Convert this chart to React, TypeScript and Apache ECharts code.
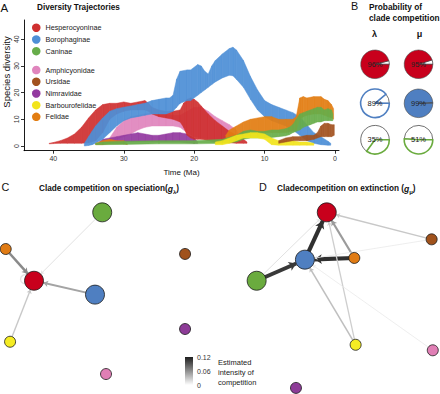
import React, { useEffect, useRef } from "react";
import * as echarts from "echarts";

const FONT = "'Liberation Sans', Arial, Helvetica, sans-serif";

// ---------------- Panel A: diversity trajectories ----------------
const timeTicks = [40, 30, 20, 10, 0];
const diversityTicks = [0, 10, 20, 30, 40];

const cladeNames = [
  "Hesperocyoninae",
  "Borophaginae",
  "Caninae",
  "Amphicyonidae",
  "Ursidae",
  "Nimravidae",
  "Barbourofelidae",
  "Felidae",
];
const legendGroup1 = ["Hesperocyoninae", "Borophaginae", "Caninae"];
const legendGroup2 = ["Amphicyonidae", "Ursidae", "Nimravidae", "Barbourofelidae", "Felidae"];

// envelope (lower / upper) of the simulated trajectories, per clade
const hespTime = [40.6, 40, 39, 38, 37, 36, 35, 34, 33, 32, 31, 30, 29, 28, 27, 26.5, 26, 25, 24, 23, 22, 21.5, 21, 20.5, 20, 19.5, 19, 18, 17, 16, 15, 14, 13, 12.5];
const hespHigh = [1, 1.3, 2, 3, 4.5, 7, 10.5, 13.5, 15.5, 16, 16, 16.5, 16, 16.5, 17, 16, 14.5, 13.5, 13, 13, 13.5, 16, 17.5, 18, 17.5, 16.5, 15, 12, 9.5, 7.5, 5.5, 4, 2.5, 1.5];
const hespLow = [0.8, 0.9, 1, 1, 1, 1, 1.2, 2, 5, 10, 12, 13, 13.5, 13.5, 13.5, 13, 12, 11, 10.5, 10, 9, 7, 4, 3, 2.5, 2.5, 2.5, 2, 1.5, 1.5, 1.2, 1, 1, 1];

const boroTime = [35.6, 35, 34.5, 34, 33, 32, 31, 30, 29, 28, 27, 26, 25, 24, 23.5, 23, 22.5, 22, 21, 20.5, 19.5, 19, 18.5, 18, 17.5, 17, 16, 15, 14.5, 14, 13, 12, 11, 10, 9, 8, 7, 6, 5, 4, 3, 2, 1, 0.6];
const boroHigh = [1, 3.5, 5.5, 7.5, 10.5, 13, 14, 14.5, 15, 15.5, 16, 17, 17.5, 18, 18, 19, 25, 28, 28.5, 28.5, 30.5, 30, 28, 27, 30, 32, 34.5, 36.5, 37, 36, 32, 26, 21, 17, 15.5, 14.5, 13.5, 12.5, 11, 8, 5, 3.5, 1.8, 1];
const boroLow = [0, 0.2, 0.5, 1, 2.5, 5, 7.5, 9.5, 10.5, 11, 11.5, 12, 12, 12, 12.5, 13, 14.5, 16, 17, 17, 19, 20, 21, 22, 23, 24, 25.5, 26.5, 26.3, 25, 22, 17.5, 13.5, 11, 9.5, 8.5, 7.5, 6, 4, 2, 1, 0.5, 0.3, 0.3];

const caniTime = [34, 33, 30, 25, 20, 16, 14, 13, 12, 11, 10, 9, 8, 7, 6.5, 6, 5.5, 5, 4.5, 4, 3.5, 3, 2.5, 2, 1.5, 1, 0.5, 0.3];
const caniHigh = [1, 1.5, 1.8, 2, 2, 2.5, 4, 5.5, 6, 5.5, 5.5, 6, 6, 6.5, 7, 8, 10, 12, 12.5, 13, 13.5, 14, 14.5, 14.5, 13.5, 14, 13.5, 12];
const caniLow = [0.5, 0.5, 0.6, 0.8, 0.8, 1, 1.5, 2.5, 3, 3, 3, 3.2, 3.5, 3.8, 4.2, 5, 5.5, 6, 7, 7.5, 8, 8.5, 9, 9, 9.5, 9.5, 9.5, 9.5];

const amphTime = [32, 31, 30, 29, 28, 27, 26, 25, 24, 23, 22, 21, 20, 19, 18, 17, 16, 15, 14, 13.5];
const amphHigh = [3, 7, 9.5, 11, 11.5, 12, 12.5, 12.5, 12, 11.5, 11.5, 13, 14.5, 14.5, 13, 11, 9.5, 8, 6, 3];
const amphLow = [1.5, 2.5, 3.5, 4.5, 6, 7, 7.5, 7.5, 7.5, 7.5, 7, 5, 3.5, 3, 2.5, 2, 2, 2, 1.5, 1.5];

const ursiTime = [8, 7, 6, 5, 4, 3, 2.5, 2, 1.5, 1, 0.5, 0.1];
const ursiHigh = [2, 3, 3.5, 3.5, 4, 4, 5, 7.5, 8.5, 8.5, 8, 8];
const ursiLow = [1, 1.5, 2, 2, 2, 2.5, 3, 3.5, 3.5, 3.5, 3.5, 4];

const nimrTime = [33.5, 33, 32, 31, 30, 29, 28, 27, 26, 25, 24, 23, 22, 21, 20, 19.5];
const nimrHigh = [1.5, 2.5, 3, 3.5, 4, 4.5, 5, 4.5, 4, 4, 4.5, 5, 5, 4.5, 3, 1.5];
const nimrLow = [1, 1, 1, 1.2, 1.5, 1.5, 1.5, 1.5, 1.5, 1.5, 1.5, 1.5, 1.5, 1.2, 1, 1];

const barbTime = [17, 16, 15, 14, 13, 12, 11, 10, 9, 8, 7, 6, 5, 4, 3];
const barbHigh = [1.5, 2, 3, 4, 4.5, 5, 5, 4.5, 3, 2, 2, 2, 1.5, 1.5, 1];
const barbLow = [0.5, 0.5, 1, 2, 3, 3, 3, 2.5, 0.5, 0.3, 0.3, 0.3, 0.3, 0.3, 0.3];

const feliTime = [34, 33, 32, 31, 30, 29.5, 20, 15.5, 15, 14, 13, 12, 11, 10, 9, 8, 7, 6, 5.5, 5, 4.5, 4, 3, 2, 1.5, 1, 0.5, 0.2];
const feliHigh = [1, 2, 2.5, 2, 2, 1, null, 4, 6, 7.5, 9, 10, 10.5, 11, 11, 10, 10, 10, 11, 18, 18.5, 18, 18.5, 18.5, 17.5, 17, 15.5, 14];
const feliLow = [0.5, 0.5, 0.8, 0.8, 0.8, 0.5, null, 2.5, 3, 3.5, 4, 4.5, 4.5, 5, 5, 5, 5, 5.5, 6, 10, 11, 11.5, 12, 12, 11.5, 11, 10.5, 10];

// ---------------- Panel B: probability of clade competition ----------------
const pieClades = ["Hesperocyoninae", "Borophaginae", "Caninae"];
const probLambda = [96, 89, 35];
const probMu = [95, 99, 51];

// ---------------- Panels C / D: competition networks ----------------
// node layout (relative units 0-100), in cladeNames order
const specX = [17.9, 50.0, 53.8, 55.8, 97.4, 97.4, 5.3, 3.0];
const specY = [57.5, 50.2, 93.5, 8.4, 71.6, 32.1, 25.4, 74.2];
const extX = [40.4, 28.9, 3.5, 96.2, 95.6, 24.2, 55.6, 54.9];
const extY = [93.5, 68.6, 57.5, 20.9, 79.3, 1.1, 23.8, 69.5];

// [source, target, estimated intensity]
const specLinks: [string, string, number][] = [
  ["Felidae", "Hesperocyoninae", 0.06],
  ["Borophaginae", "Hesperocyoninae", 0.045],
  ["Barbourofelidae", "Hesperocyoninae", 0.025],
  ["Caninae", "Hesperocyoninae", 0.012],
  ["Hesperocyoninae", "Hesperocyoninae", 0.014],
];
const extLinks: [string, string, number][] = [
  ["Borophaginae", "Hesperocyoninae", 0.11],
  ["Felidae", "Borophaginae", 0.11],
  ["Caninae", "Borophaginae", 0.105],
  ["Felidae", "Hesperocyoninae", 0.05],
  ["Ursidae", "Hesperocyoninae", 0.025],
  ["Barbourofelidae", "Hesperocyoninae", 0.022],
  ["Barbourofelidae", "Borophaginae", 0.03],
  ["Caninae", "Hesperocyoninae", 0.012],
  ["Ursidae", "Borophaginae", 0.006],
  ["Amphicyonidae", "Borophaginae", 0.006],
];
const intensityTicks = [0, 0.06, 0.12];

// ---------------- styles ----------------
const trajColor: Record<string, string> = {
  Hesperocyoninae: "#cf3030",
  Borophaginae: "#4e8fd6",
  Caninae: "#67ad4a",
  Amphicyonidae: "#e085bd",
  Ursidae: "#a2521f",
  Nimravidae: "#933aa0",
  Barbourofelidae: "#f2e41c",
  Felidae: "#e27d12",
};
const nodeColor: Record<string, string> = {
  Hesperocyoninae: "#c8001c",
  Borophaginae: "#4f7fc1",
  Caninae: "#6aab3e",
  Amphicyonidae: "#e07fb5",
  Ursidae: "#a0521c",
  Nimravidae: "#8d3c97",
  Barbourofelidae: "#f5ec23",
  Felidae: "#e07b14",
};
const bigNodes = ["Hesperocyoninae", "Borophaginae", "Caninae"];

// band of trajectories: each data item draws the quad to the next time point,
// positioned through the grid's own scales (api.coord)
function bandSeries(name: string, t: number[], low: (number | null)[], high: (number | null)[]) {
  const color = trajColor[name];
  return {
    type: "custom",
    name,
    xAxisIndex: 0,
    yAxisIndex: 0,
    silent: true,
    clip: false,
    itemStyle: { color },
    encode: { x: 0, y: [1, 2] },
    data: t.map((x, i) => [x, low[i] == null ? "-" : low[i], high[i] == null ? "-" : high[i]]),
    renderItem: (params: any, api: any) => {
      const i = params.dataIndex;
      const j = i + 1;
      if (j >= t.length) return null;
      if (low[i] == null || high[i] == null || low[j] == null || high[j] == null) return null;
      const pts = [
        api.coord([t[i], high[i]]),
        api.coord([t[j], high[j]]),
        api.coord([t[j], low[j]]),
        api.coord([t[i], low[i]]),
      ];
      return {
        type: "polygon",
        shape: { points: pts },
        style: { fill: color, stroke: color, lineWidth: 0.5, opacity: 0.93 },
      };
    },
  };
}

const grayFor = (v: number) => {
  const g = Math.round(245 - (245 - 30) * Math.min(v / 0.12, 1));
  return `rgb(${g},${g},${g})`;
};

function network(idx: number, xs: number[], ys: number[], links: [string, string, number][]) {
  return {
    type: "graph",
    coordinateSystem: "cartesian2d",
    xAxisIndex: idx,
    yAxisIndex: idx,
    symbol: "circle",
    edgeSymbol: ["none", "arrow"],
    silent: true,
    label: { show: false },
    emphasis: { disabled: true },
    lineStyle: { opacity: 1 },
    data: cladeNames.map((n, i) => ({
      name: n,
      value: [xs[i], ys[i]],
      symbolSize: bigNodes.includes(n) ? 19 : 11,
      itemStyle: { color: nodeColor[n], borderColor: "#1a1a1a", borderWidth: 0.8 },
    })),
    links: links
      .filter(([s, t]) => s !== t)
      .map(([s, t, v]) => ({
        source: s,
        target: t,
        symbolSize: [0, 3 + v * 40],
        lineStyle: { color: grayFor(v), width: 0.6 + v * 32, opacity: 1, curveness: 0 },
      })),
    z: 3,
  };
}

// self-competition loops, drawn as small rings beside the node
function selfLoops(idx: number, xs: number[], ys: number[], links: [string, string, number][]) {
  const loops = links.filter(([s, t]) => s === t);
  return {
    type: "scatter",
    xAxisIndex: idx,
    yAxisIndex: idx,
    silent: true,
    symbol: "circle",
    symbolSize: 9,
    symbolOffset: [-9, -1.5],
    data: loops.map(([s, , v]) => {
      const i = cladeNames.indexOf(s);
      return {
        value: [xs[i], ys[i]],
        itemStyle: { color: "rgba(0,0,0,0)", borderColor: grayFor(v), borderWidth: 1.3 },
      };
    }),
    z: 2,
  };
}

function pie(p: number, color: string, filled: boolean, cx: number, cy: number) {
  return {
    type: "pie",
    center: [cx, cy],
    radius: [0, 14.3],
    startAngle: 0,
    clockwise: false,
    silent: true,
    avoidLabelOverlap: false,
    emphasis: { disabled: true },
    label: { show: false },
    labelLine: { show: false },
    data: [
      { value: 100 - p, name: "no competition", itemStyle: { color: "#ffffff", borderColor: "#333", borderWidth: 0.7 } },
      {
        value: p,
        name: "competition",
        itemStyle: filled
          ? { color, borderColor: "#444", borderWidth: 0.6 }
          : { color: "#ffffff", borderColor: color, borderWidth: 1.6 },
        label: {
          show: true,
          position: "center",
          formatter: p + "%",
          fontSize: 7.5,
          color: "#222",
          fontFamily: FONT,
          padding: [11, 0, 0, 0],
        },
      },
    ],
  };
}

function txt(x: number, y: number, text: string, size: number, extra: any = {}) {
  return {
    type: "text",
    x,
    y,
    silent: true,
    style: {
      text,
      fontSize: size,
      fontFamily: FONT,
      fill: "#111",
      verticalAlign: "middle",
      align: "left",
      ...extra,
    },
  };
}

function buildOption() {
  const bands = [
    bandSeries("Amphicyonidae", amphTime, amphLow, amphHigh),
    bandSeries("Nimravidae", nimrTime, nimrLow, nimrHigh),
    bandSeries("Hesperocyoninae", hespTime, hespLow, hespHigh),
    bandSeries("Borophaginae", boroTime, boroLow, boroHigh),
    bandSeries("Felidae", feliTime, feliLow, feliHigh),
    bandSeries("Caninae", caniTime, caniLow, caniHigh),
    bandSeries("Barbourofelidae", barbTime, barbLow, barbHigh),
    bandSeries("Ursidae", ursiTime, ursiLow, ursiHigh),
  ];

  const pieCols = [375, 418.5];
  const pieRows = [64.3, 103.3, 139.7];
  const filledLambda = [true, false, false];
  const filledMu = [true, true, false];
  const pies: any[] = [];
  pieClades.forEach((c, r) => {
    pies.push(pie(probLambda[r], nodeColor[c], filledLambda[r], pieCols[0], pieRows[r]));
    pies.push(pie(probMu[r], nodeColor[c], filledMu[r], pieCols[1], pieRows[r]));
  });

  const legendCommon = {
    orient: "vertical",
    left: 32,
    padding: 0,
    icon: "circle",
    itemWidth: 8.5,
    itemHeight: 8.5,
    itemGap: 3.2,
    selectedMode: false,
    itemStyle: { borderWidth: 0 },
    textStyle: { fontSize: 7.2, color: "#222", fontFamily: FONT },
  };

  const richTitle = (main: string, sub: string) => ({
    text: `{b|${main}(}{g|g}{s|${sub}}{b|)}`,
    rich: {
      b: { fontSize: 8.2, fontWeight: "bold", fontFamily: FONT, fill: "#111" },
      g: { fontSize: 8.6, fontWeight: "bold", fontStyle: "italic", fontFamily: FONT, fill: "#111" },
      s: { fontSize: 6, fontWeight: "bold", fontFamily: FONT, fill: "#111", padding: [6, 0, 0, 0] },
    },
  });

  return {
    animation: false,
    backgroundColor: "#ffffff",
    textStyle: { fontFamily: FONT },
    grid: [
      { left: 24, top: 20, width: 315, height: 130.7 },
      { left: 0, top: 200, width: 190, height: 190 },
      { left: 250, top: 200, width: 190, height: 190 },
      { left: 185, top: 357, width: 8, height: 28 },
    ],
    xAxis: [
      {
        gridIndex: 0,
        type: "value",
        inverse: true,
        min: -0.57,
        max: 44.17,
        axisLine: { show: true, onZero: false, lineStyle: { color: "#000", width: 0.9 } },
        axisTick: { show: true, customValues: timeTicks, length: 3, lineStyle: { color: "#000", width: 0.8 } },
        axisLabel: { customValues: timeTicks, fontSize: 7, color: "#333", margin: 4, fontFamily: FONT },
        splitLine: { show: false },
        name: "Time (Ma)",
        nameLocation: "middle",
        nameGap: 18,
        nameTextStyle: { fontSize: 8, color: "#111", fontFamily: FONT },
      },
      { gridIndex: 1, type: "value", min: 0, max: 100, show: false },
      { gridIndex: 2, type: "value", min: 0, max: 100, show: false },
      { gridIndex: 3, type: "category", data: ["intensity"], show: false },
    ],
    yAxis: [
      {
        gridIndex: 0,
        type: "value",
        min: -1.76,
        max: 47.2,
        axisLine: { show: true, onZero: false, lineStyle: { color: "#000", width: 0.9 } },
        axisTick: { show: true, customValues: diversityTicks, length: 3, lineStyle: { color: "#000", width: 0.8 } },
        axisLabel: { customValues: diversityTicks, rotate: 90, fontSize: 7, color: "#333", margin: 4, fontFamily: FONT },
        splitLine: { show: false },
      },
      { gridIndex: 1, type: "value", min: 0, max: 100, show: false },
      { gridIndex: 2, type: "value", min: 0, max: 100, show: false },
      {
        gridIndex: 3,
        type: "value",
        min: 0,
        max: intensityTicks[intensityTicks.length - 1],
        position: "right",
        axisLine: { show: false },
        axisTick: { show: false },
        splitLine: { show: false },
        axisLabel: {
          customValues: intensityTicks,
          fontSize: 7,
          color: "#333",
          margin: 4,
          fontFamily: FONT,
          formatter: (v: number) => (v === 0 ? "0" : v.toFixed(2)),
        },
      },
    ],
    legend: [
      { ...legendCommon, top: 23.5, data: legendGroup1 },
      { ...legendCommon, top: 65.8, data: legendGroup2 },
    ],
    series: [
      ...bands,
      selfLoops(1, specX, specY, specLinks),
      network(1, specX, specY, specLinks),
      network(2, extX, extY, extLinks),
      {
        type: "bar",
        xAxisIndex: 3,
        yAxisIndex: 3,
        data: [intensityTicks[intensityTicks.length - 1]],
        barWidth: "100%",
        silent: true,
        itemStyle: {
          color: new echarts.graphic.LinearGradient(0, 0, 0, 1, [
            { offset: 0, color: "#1e1e1e" },
            { offset: 1, color: "#ffffff" },
          ]),
        },
      },
      ...pies,
    ],
    graphic: [
      txt(0.5, 7.5, "A", 11.5),
      txt(37, 7, "Diversity Trajectories", 8.2, { fontWeight: "bold" }),
      {
        type: "text",
        x: 6,
        y: 72,
        rotation: Math.PI / 2,
        silent: true,
        style: { text: "Species diversity", fontSize: 9.5, fontFamily: FONT, fill: "#111", align: "center", verticalAlign: "middle" },
      },
      txt(351, 5.5, "B", 10.8),
      txt(369, 7.3, "Probability of", 8.3, { fontWeight: "bold" }),
      txt(369, 18.3, "clade competition", 8.3, { fontWeight: "bold" }),
      txt(374.5, 34, "λ", 9, { fontWeight: "bold", align: "center" }),
      txt(419.5, 34, "μ", 9, { fontWeight: "bold", align: "center" }),
      txt(1.5, 187, "C", 10.8),
      { type: "text", x: 39, y: 188.5, silent: true, style: { ...richTitle("Clade competition on speciation", "λ"), verticalAlign: "middle", align: "left" } },
      txt(259, 186.5, "D", 10.8),
      { type: "text", x: 277, y: 188.5, silent: true, style: { ...richTitle("Cladecompetition on extinction ", "μ"), verticalAlign: "middle", align: "left" } },
      txt(218, 362, "Estimated", 7.5, { fill: "#222" }),
      txt(218, 372, "intensity of", 7.5, { fill: "#222" }),
      txt(218, 382, "competition", 7.5, { fill: "#222" }),
    ],
  };
}

export default function App() {
  const ref = useRef<HTMLDivElement>(null);
  useEffect(() => {
    document.body.style.margin = "0";
    const chart = echarts.init(ref.current as HTMLDivElement, null, { renderer: "svg" });
    chart.setOption(buildOption() as any);
    return () => chart.dispose();
  }, []);
  return <div ref={ref} style={{ width: 440, height: 394 }} />;
}
